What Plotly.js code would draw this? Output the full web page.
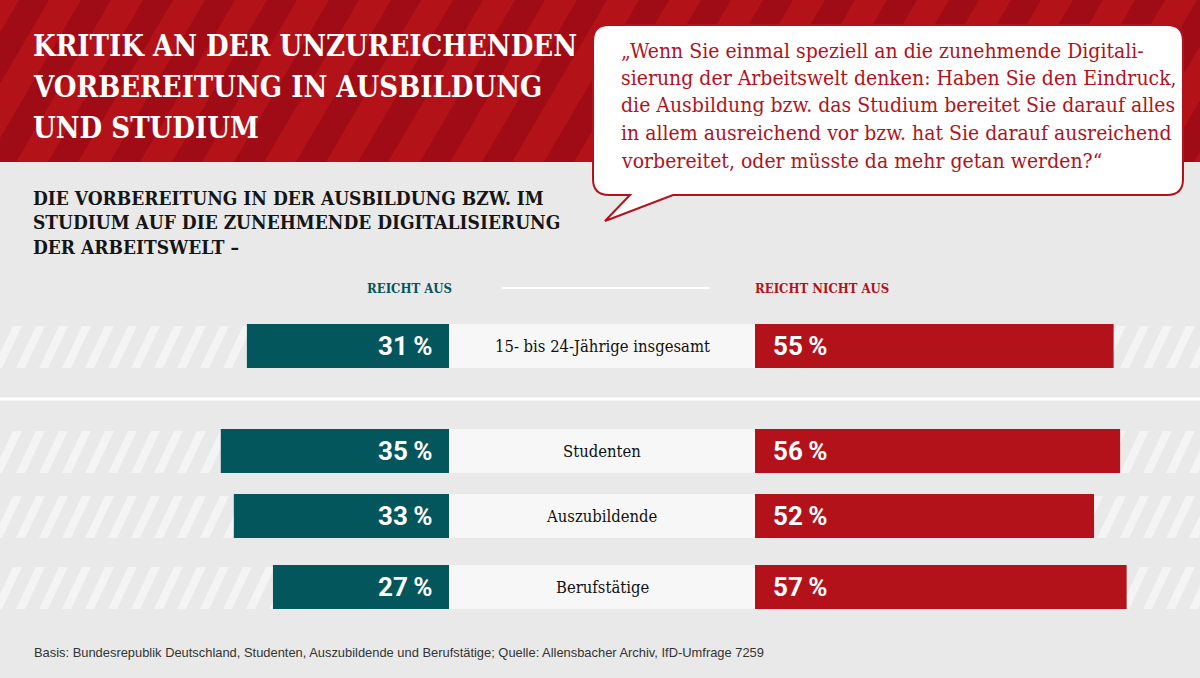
<!DOCTYPE html>
<html><head><meta charset="utf-8">
<script src="https://cdn.plot.ly/plotly-3.0.1.min.js"></script>
<style>html,body{margin:0;padding:0;background:#e9e9e9;}#chart{width:1200px;height:678px;}</style>
</head><body><div id="chart"></div>
<script>
// ---- data ----
const categories = ["15- bis 24-Jährige insgesamt", "Studenten", "Auszubildende", "Berufstätige"];
const reichtAus = [31, 35, 33, 27];
const reichtNichtAus = [55, 56, 52, 57];
const seriesNames = ["REICHT AUS", "REICHT NICHT AUS"];
const titleLines = ["KRITIK AN DER UNZUREICHENDEN", "VORBEREITUNG IN AUSBILDUNG", "UND STUDIUM"];
const subtitleLines = ["DIE VORBEREITUNG IN DER AUSBILDUNG BZW. IM", "STUDIUM AUF DIE ZUNEHMENDE DIGITALISIERUNG", "DER ARBEITSWELT –"];
const quoteLines = ["„Wenn Sie einmal speziell an die zunehmende Digitali-", "sierung der Arbeitswelt denken: Haben Sie den Eindruck,", "die Ausbildung bzw. das Studium bereitet Sie darauf alles", "in allem ausreichend vor bzw. hat Sie darauf ausreichend", "vorbereitet, oder müsste da mehr getan werden?“"];
const footnote = "Basis: Bundesrepublik Deutschland, Studenten, Auszubildende und Berufstätige; Quelle: Allensbacher Archiv, IfD-Umfrage 7259";

// ---- layout constants (pixels) ----
const W = 1200, H = 678;
const ZERO_PX = 449, PX_PER_UNIT = 6.52, RED_START_PX = 755;
const GAP = (RED_START_PX - ZERO_PX) / PX_PER_UNIT;
const rowTop = [324, 429, 494, 565], rowH = 44;
const TEAL = "#03565c", RED = "#b3121b";
const px = x => x / W, py = y => 1 - y / H;

const serifB = "DejaVu Serif Condensed, DejaVu Serif, serif";
const serif = "DejaVu Serif Condensed, Liberation Serif, serif";

const traces = [];
const shapes = [];
const annotations = [];
const layout = {
  width: W, height: H, margin: {l:0, r:0, t:0, b:0},
  paper_bgcolor: "#e9e9e9", plot_bgcolor: "rgba(0,0,0,0)",
  showlegend: false, hovermode: false, barmode: "overlay",
  xaxis: {range: [-ZERO_PX / PX_PER_UNIT, (W - ZERO_PX) / PX_PER_UNIT], visible: false, fixedrange: true}
};

// header background + stripes
shapes.push({type:"rect", xref:"paper", yref:"paper", x0:0, x1:1, y0:py(162), y1:1, fillcolor:"#b41219", line:{width:0}, layer:"below"});
let hp = "";
for (let x = -200; x < W + 100; x += 62) {
  const skew = 95;
  hp += `M${px(x)},${py(162)} L${px(x+30)},${py(162)} L${px(x+30+skew)},${py(0)} L${px(x+skew)},${py(0)} Z `;
}
shapes.push({type:"path", xref:"paper", yref:"paper", path:hp, fillcolor:"#9f0c15", line:{width:0}, layer:"below"});

// row stripes + center boxes
categories.forEach((c, i) => {
  const t = rowTop[i] + 2, b = rowTop[i] + rowH;
  let p = "";
  for (let x = -30; x < W + 10; x += 23) {
    p += `M${px(x)},${py(b)} L${px(x+9)},${py(b)} L${px(x+29)},${py(t)} L${px(x+20)},${py(t)} Z `;
  }
  shapes.push({type:"path", xref:"paper", yref:"paper", path:p, fillcolor:"#f4f4f4", line:{width:0}, layer:"below"});
});
categories.forEach((c, i) => {
  const ya = i === 0 ? "y" : "y" + (i + 1);
  shapes.push({type:"rect", xref:"x", yref: ya + " domain", x0:0, x1:GAP, y0:0, y1:1, fillcolor:"#f7f7f7", line:{width:0}, layer:"below"});
});

// separator + header rule
shapes.push({type:"line", xref:"paper", yref:"paper", x0:0, x1:1, y0:py(399), y1:py(399), line:{color:"#ffffff", width:3}});
shapes.push({type:"line", xref:"paper", yref:"paper", x0:px(502), x1:px(710), y0:py(288), y1:py(288), line:{color:"#ffffff", width:2}});

// speech bubble
const L=593, R=1183, T=25, B=195, r=16;
const bub = `M${px(L+r)},${py(T)} L${px(R-r)},${py(T)} Q${px(R)},${py(T)} ${px(R)},${py(T+r)} L${px(R)},${py(B-r)} Q${px(R)},${py(B)} ${px(R-r)},${py(B)} L${px(673)},${py(B)} L${px(605)},${py(221)} L${px(630)},${py(B)} L${px(L+r)},${py(B)} Q${px(L)},${py(B)} ${px(L)},${py(B-r)} L${px(L)},${py(T+r)} Q${px(L)},${py(T)} ${px(L+r)},${py(T)} Z`;
shapes.push({type:"path", xref:"paper", yref:"paper", path:bub, fillcolor:"#ffffff", line:{color:RED, width:2}});

// bars
categories.forEach((c, i) => {
  const idx = i === 0 ? "" : String(i + 1);
  const ya = "y" + idx;
  layout["yaxis" + idx] = {domain:[py(rowTop[i] + rowH), py(rowTop[i])], type:"category", range:[-0.5, 0.5], visible:false, fixedrange:true, anchor:"x"};
  traces.push({type:"bar", orientation:"h", name:seriesNames[0], y:[c], x:[-reichtAus[i]], base:0, width:1, yaxis:ya, marker:{color:TEAL}, hoverinfo:"skip"});
  traces.push({type:"bar", orientation:"h", name:seriesNames[1], y:[c], x:[reichtNichtAus[i]], base:GAP, width:1, yaxis:ya, marker:{color:RED}, hoverinfo:"skip"});
  const valFont = {family:"Roboto, Open Sans, sans-serif", size:26, color:"#ffffff", weight:700};
  annotations.push({xref:"x", yref:ya, x:0, y:c, xanchor:"right", yanchor:"middle", xshift:-15, text:reichtAus[i] + "\u2009%", showarrow:false, font:valFont});
  annotations.push({xref:"x", yref:ya, x:GAP, y:c, xanchor:"left", yanchor:"middle", xshift:16, text:reichtNichtAus[i] + "\u2009%", showarrow:false, font:valFont});
  annotations.push({xref:"x", yref:ya, x:GAP/2, y:c, xanchor:"center", yanchor:"middle", text:c, showarrow:false, font:{family:serif, size:16.5, color:"#111111"}});
});

// texts
const titleY = [46, 87, 128];
titleLines.forEach((t, i) => annotations.push({xref:"paper", yref:"paper", x:px(31), y:py(titleY[i]), xanchor:"left", yanchor:"middle", text:t, showarrow:false, font:{family:serifB, size:29, color:"#ffffff", weight:700}}));
const subY = [198, 222, 247];
subtitleLines.forEach((t, i) => annotations.push({xref:"paper", yref:"paper", x:px(31), y:py(subY[i]), xanchor:"left", yanchor:"middle", text:t, showarrow:false, font:{family:serifB, size:19, color:"#151515", weight:700}}));
const qY = [51, 78, 105, 133, 161];
quoteLines.forEach((t, i) => annotations.push({xref:"paper", yref:"paper", x:px(619), y:py(qY[i]), xanchor:"left", yanchor:"middle", text:t, showarrow:false, font:{family:serif, size:21, color:RED}}));
annotations.push({xref:"paper", yref:"paper", x:px(409), y:py(288), xanchor:"center", yanchor:"middle", text:seriesNames[0], showarrow:false, font:{family:serifB, size:13, color:TEAL, weight:700}});
annotations.push({xref:"paper", yref:"paper", x:px(753), y:py(288), xanchor:"left", yanchor:"middle", text:seriesNames[1], showarrow:false, font:{family:serifB, size:13, color:RED, weight:700}});
annotations.push({xref:"paper", yref:"paper", x:px(32), y:py(652), xanchor:"left", yanchor:"middle", text:footnote, showarrow:false, font:{family:"Liberation Sans Narrow, Arial Narrow, Liberation Sans, sans-serif", size:12.9, color:"#333333"}});

layout.shapes = shapes;
layout.annotations = annotations;
Plotly.newPlot("chart", traces, layout, {displayModeBar:false, staticPlot:true});
</script></body></html>
